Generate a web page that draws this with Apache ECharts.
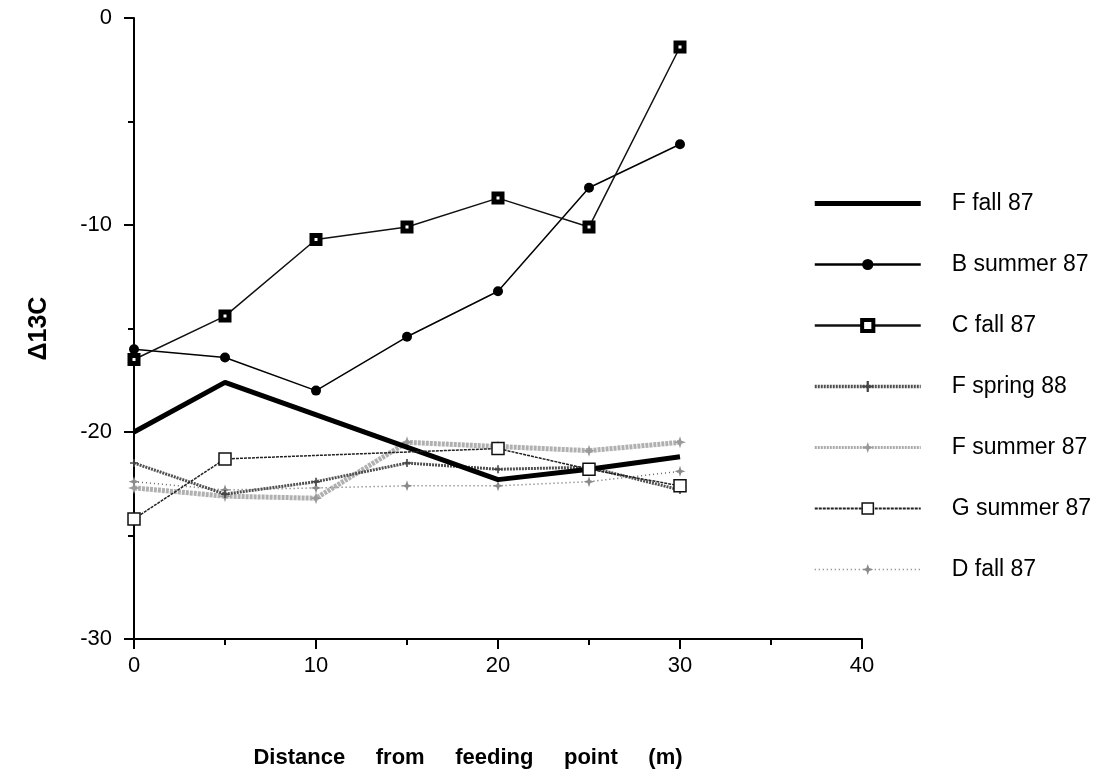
<!DOCTYPE html>
<html>
<head>
<meta charset="utf-8">
<script src="https://cdn.jsdelivr.net/npm/echarts@6/dist/echarts.min.js"></script>
<style>
html,body{margin:0;padding:0;background:#fff;}
#chart{width:1110px;height:774px;}
</style>
</head>
<body>
<div id="chart"></div>
<script>
// Distance from feeding point (m)
const distance = [0, 5, 10, 15, 20, 25, 30];
// Δ13C values per series (null = no point plotted)
const fFall87   = [-20.0, -17.6, null, null, -22.3, -21.8, -21.2];
const bSummer87 = [-16.0, -16.4, -18.0, -15.4, -13.2, -8.2, -6.1];
const cFall87   = [-16.5, -14.4, -10.7, -10.1, -8.7, -10.1, -1.4];
const fSpring88 = [-21.5, -23.0, -22.4, -21.5, -21.8, -21.7, -22.8];
const fSummer87 = [-22.7, -23.1, -23.2, -20.5, -20.7, -20.9, -20.5];
const gSummer87 = [-24.2, -21.3, null, null, -20.8, -21.8, -22.6];
const dFall87   = [-22.4, -22.8, -22.7, -22.6, -22.6, -22.4, -21.9];

const seriesNames = ['F fall 87', 'B summer 87', 'C fall 87', 'F spring 88', 'F summer 87', 'G summer 87', 'D fall 87'];
const xTicks = [0, 10, 20, 30, 40];
const yTicks = [-30, -20, -10, 0];

function pairs(vals) {
  const out = [];
  vals.forEach((v, i) => { if (v !== null) out.push([distance[i], v]); });
  return out;
}

const FONT = "'Liberation Sans', Arial, Helvetica, sans-serif";
const star = 'path://M0,-10 L2.5,-2.5 L10,0 L2.5,2.5 L0,10 L-2.5,2.5 L-10,0 L-2.5,-2.5 Z';
const plus = 'path://M-1,-5 L1,-5 L1,-1 L5,-1 L5,1 L1,1 L1,5 L-1,5 L-1,1 L-5,1 L-5,-1 L-1,-1 Z';
const thickBar = 'path://M0,0 L106,0 L106,5 L0,5 Z';

const chart = echarts.init(document.getElementById('chart'), null, {renderer: 'canvas'});
chart.setOption({
  backgroundColor: '#fff',
  animation: false,
  grid: {left: 134, right: 248, top: 18, bottom: 132},
  xAxis: {
    type: 'value', min: xTicks[0], max: xTicks[xTicks.length - 1], interval: 10,
    name: 'Distance     from     feeding     point     (m)',
    nameLocation: 'middle', nameGap: 108,
    nameTextStyle: {fontFamily: FONT, fontSize: 22, fontWeight: 'bold', color: '#000', padding: [0, 60, 0, 0]},
    axisLine: {show: true, onZero: false, lineStyle: {color: '#000', width: 2}},
    axisTick: {show: true, inside: false, length: 10, lineStyle: {color: '#000', width: 2}},
    minorTick: {show: true, splitNumber: 2, length: 6, lineStyle: {color: '#000', width: 2}},
    splitLine: {show: false},
    axisLabel: {fontFamily: FONT, fontSize: 22, color: '#000', margin: 16}
  },
  yAxis: {
    type: 'value', min: yTicks[0], max: yTicks[yTicks.length - 1], interval: 10,
    name: 'Δ13C',
    nameLocation: 'middle', nameGap: 82, nameRotate: 90,
    nameTextStyle: {fontFamily: FONT, fontSize: 25, fontWeight: 'bold', color: '#000'},
    axisLine: {show: true, onZero: false, lineStyle: {color: '#000', width: 2}},
    axisTick: {show: true, inside: false, length: 10, lineStyle: {color: '#000', width: 2}},
    minorTick: {show: true, splitNumber: 2, length: 6, lineStyle: {color: '#000', width: 2}},
    splitLine: {show: false},
    axisLabel: {fontFamily: FONT, fontSize: 22, color: '#000', margin: 22}
  },
  legend: {
    orient: 'vertical', left: 808, top: 187,
    itemWidth: 106, itemHeight: 14, itemGap: 38,
    textStyle: {fontFamily: FONT, fontSize: 23, color: '#000', lineHeight: 23, padding: [0, 0, 0, 26]},
    data: [
      {name: seriesNames[0], icon: thickBar, itemStyle: {color: '#000'}},
      {name: seriesNames[1], lineStyle: {width: 2.5, color: '#000'}},
      {name: seriesNames[2], lineStyle: {width: 2.5, color: '#111'}, itemStyle: {color: '#fff', borderColor: '#000', borderWidth: 4}},
      {name: seriesNames[3], lineStyle: {width: 3.5, color: '#505050', type: [2, 1]}},
      {name: seriesNames[4], lineStyle: {width: 3, color: '#aaa', type: [2, 1]}},
      {name: seriesNames[5], lineStyle: {width: 2, color: '#222', type: [3, 1]}, itemStyle: {color: '#fff', borderColor: '#111', borderWidth: 1.5}},
      {name: seriesNames[6], lineStyle: {width: 1.5, color: '#777', type: [1, 3]}}
    ]
  },
  series: [
    {name: seriesNames[4], type: 'line', data: pairs(fSummer87), z: 2,
     symbol: star, symbolSize: 12, itemStyle: {color: '#9a9a9a'},
     lineStyle: {color: '#b0b0b0', width: 5, type: [3, 1]}},
    {name: seriesNames[6], type: 'line', data: pairs(dFall87), z: 3,
     symbol: star, symbolSize: 11, itemStyle: {color: '#8a8a8a'},
     lineStyle: {color: '#666', width: 1.5, type: [1, 3]}},
    {name: seriesNames[3], type: 'line', data: pairs(fSpring88), z: 4,
     symbol: plus, symbolSize: 8, itemStyle: {color: '#444'},
     lineStyle: {color: '#505050', width: 3, type: [2, 1]}},
    {name: seriesNames[0], type: 'line', data: pairs(fFall87), z: 5,
     symbol: 'none', itemStyle: {color: '#000'},
     lineStyle: {color: '#000', width: 5}},
    {name: seriesNames[5], type: 'line', data: pairs(gSummer87), z: 6,
     symbol: 'rect', symbolSize: 12, itemStyle: {color: '#fff', borderColor: '#111', borderWidth: 1.5},
     lineStyle: {color: '#222', width: 1.5, type: [3, 1]}},
    {name: seriesNames[1], type: 'line', data: pairs(bSummer87), z: 7,
     symbol: 'circle', symbolSize: 10, itemStyle: {color: '#000'},
     lineStyle: {color: '#000', width: 1.5}},
    {name: seriesNames[2], type: 'line', data: pairs(cFall87), z: 8,
     symbol: 'rect', symbolSize: 8, itemStyle: {color: '#fff', borderColor: '#000', borderWidth: 5},
     lineStyle: {color: '#111', width: 1.5}}
  ]
});
</script>
</body>
</html>
